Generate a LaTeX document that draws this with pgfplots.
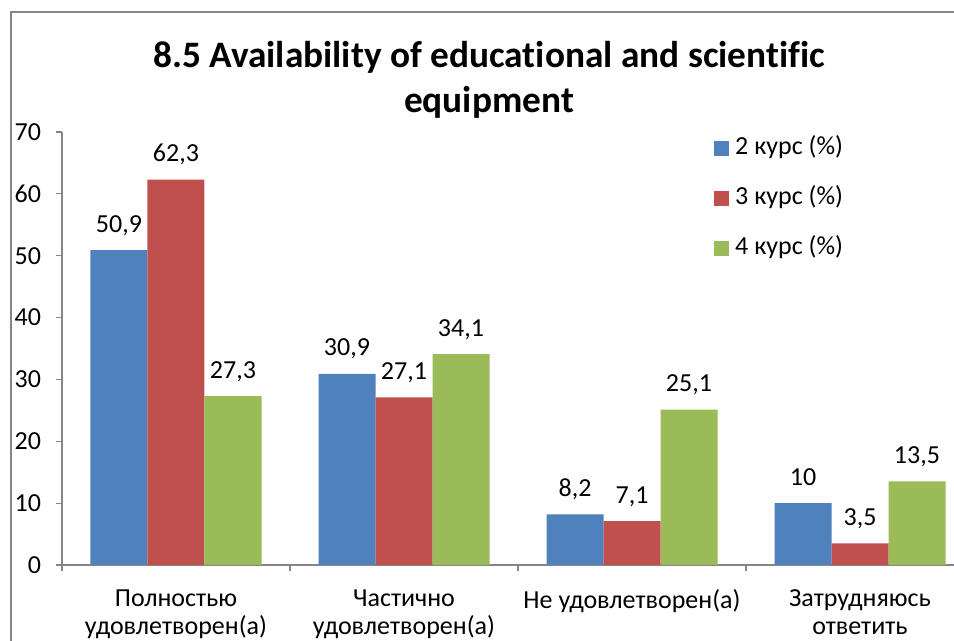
\documentclass[border=0pt]{standalone}
\usepackage{pgfplots}
\pgfplotsset{compat=1.18}
\usepackage{fontspec}
\setmainfont{Carlito}[Ligatures=NoCommon]
\definecolor{cblue}{HTML}{4F81BD}
\definecolor{cred}{HTML}{C0504D}
\definecolor{cgreen}{HTML}{9BBB59}
\definecolor{axgray}{HTML}{868686}
\newcommand{\lblfont}{\fontsize{19.5}{21}\selectfont}
\begin{document}
\begin{tikzpicture}[x=0.75pt,y=0.75pt]
\begin{scope}
\clip (0,0) rectangle (954,641);
\fill[white] (0,0) rectangle (954,641);
\draw[axgray, line width=0.9pt] (11,-5) -- (11,629) -- (960,629);
\node[anchor=base, font=\fontsize{28}{34}\selectfont\bfseries] at (489,573) {8.5 Availability of educational and scientific};
\node[anchor=base, font=\fontsize{28}{34}\selectfont\bfseries] at (489,528) {equipment};
\begin{axis}[
  at={(46.5pt,57pt)}, anchor=south west,
  scale only axis, width=684pt, height=324.75pt,
  xmin=-0.5, xmax=3.5, ymin=0, ymax=70,
  ybar=0pt, bar width=0.25,
  axis x line*=bottom, axis y line*=left,
  axis line style={axgray, line width=0.9pt, -},
  every tick/.style={axgray, line width=0.9pt},
  tick align=outside,
  ytick={0,10,...,70},
  y tick label style={font=\lblfont, anchor=east, inner sep=0pt, xshift=-11pt},
  /pgf/number format/assume math mode=true,
  major tick length=4.5pt,
  xtick={0,1,2,3},
  x tick style={draw=none},
  xticklabels={{Полностью\\удовлетворен(а)},{Частично\\удовлетворен(а)},{Не удовлетворен(а)},{Затрудняюсь\\ответить}},
  x tick label style={font=\lblfont, align=center, anchor=north, inner sep=0pt, yshift=-14pt},
  extra x ticks={-0.5,0.5,1.5,2.5,3.5},
  extra x tick labels={},
  extra x tick style={x tick style={draw=axgray, line width=0.9pt}, major tick length=4.5pt},
  nodes near coords={\pgfmathprintnumber[use comma, fixed, precision=1]{\pgfplotspointmeta}},
  every node near coord/.append style={font=\lblfont, anchor=base, inner sep=0pt, yshift=13.5pt, text=black},
  legend style={draw=none, fill=none, at={(0.7105,0.995)}, anchor=north west, font=\lblfont,
    nodes={inner sep=0pt, text height=13pt, text depth=4pt}, row sep=20.5pt,
    /tikz/every odd column/.append style={column sep=4.5pt}},
  legend cell align=left,
  clip=false,
]
\addplot[fill=cblue, draw=none, legend image code/.code={\fill[cblue] (0pt,-5.6pt) rectangle (11.25pt,5.6pt);}] coordinates {(0,50.9) (1,30.9) (2,8.2) (3,10)};
\addplot[fill=cred, draw=none, legend image code/.code={\fill[cred] (0pt,-5.6pt) rectangle (11.25pt,5.6pt);}] coordinates {(0,62.3) (1,27.1) (2,7.1) (3,3.5)};
\addplot[fill=cgreen, draw=none, legend image code/.code={\fill[cgreen] (0pt,-5.6pt) rectangle (11.25pt,5.6pt);}] coordinates {(0,27.3) (1,34.1) (2,25.1) (3,13.5)};
\legend{2 курс (\%),3 курс (\%),4 курс (\%)}
\end{axis}
\end{scope}
\pgfresetboundingbox
\useasboundingbox (0,0) rectangle (954,641);
\end{tikzpicture}
\end{document}
